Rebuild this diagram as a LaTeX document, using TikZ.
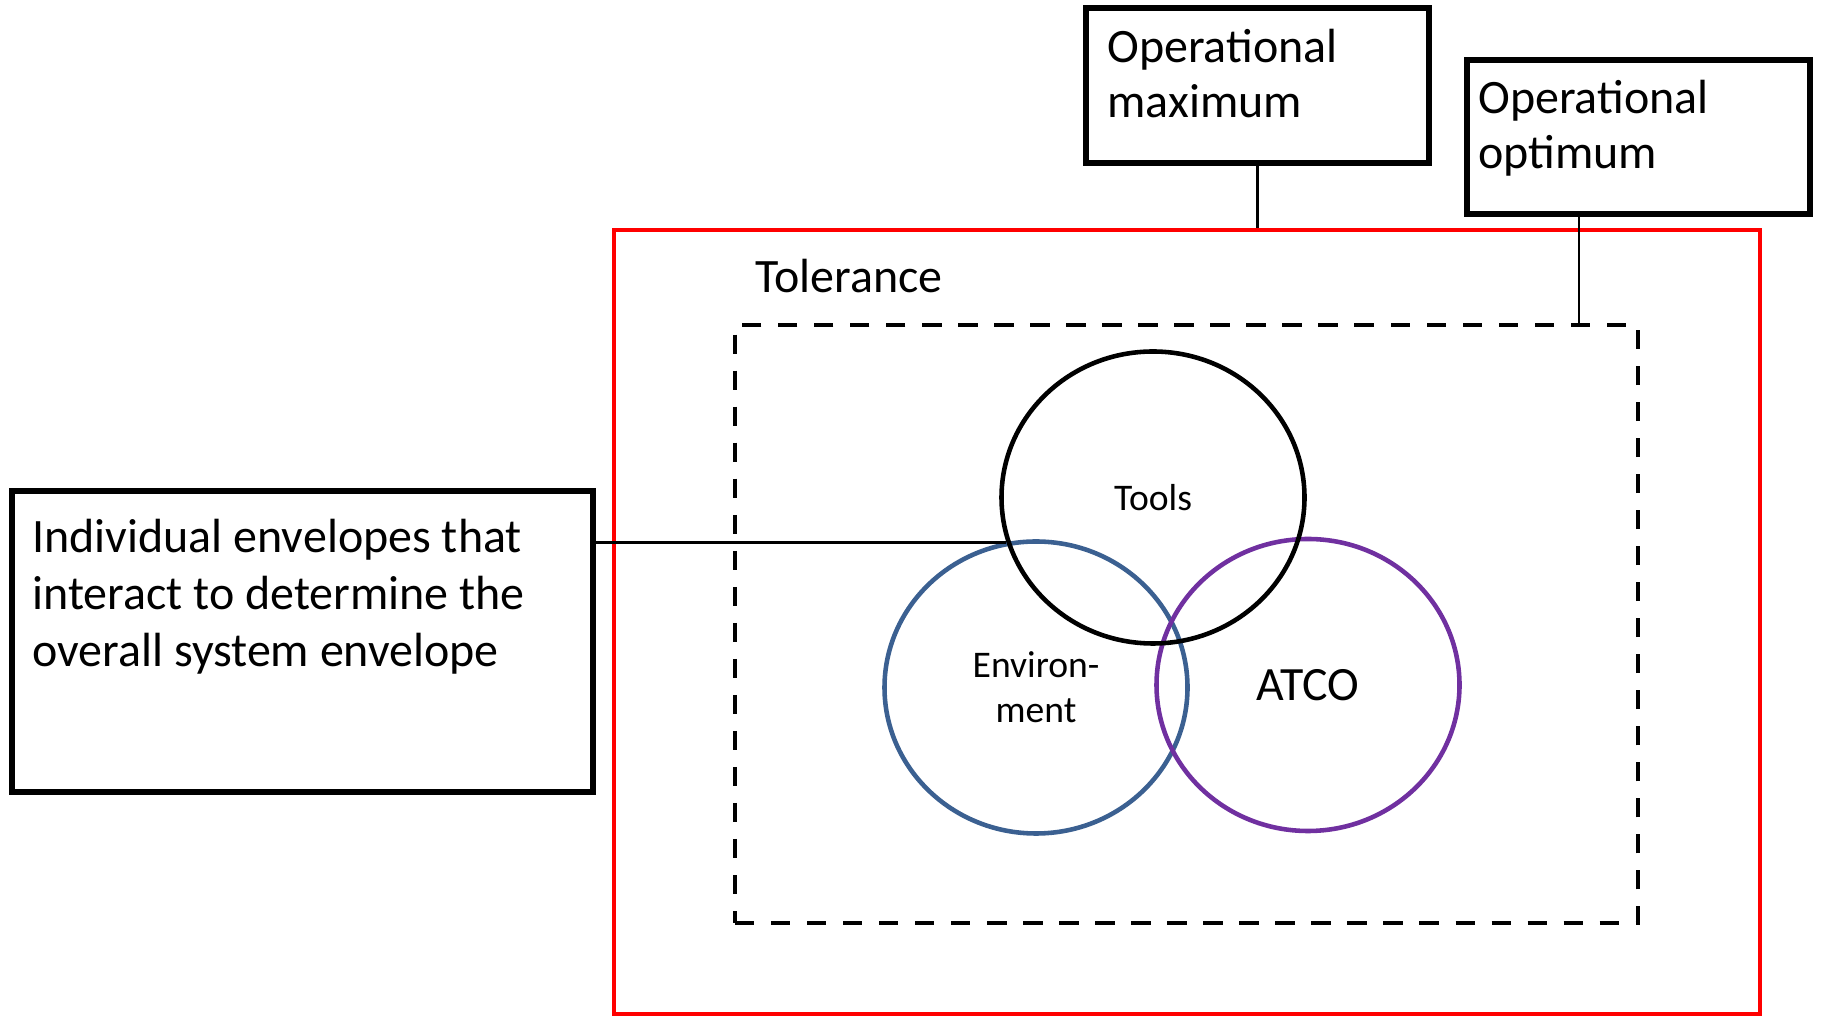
\documentclass[tikz,border=0pt]{standalone}
\usepackage{fontspec}
\setmainfont{Carlito}
\usetikzlibrary{shapes.geometric}
\definecolor{envblue}{HTML}{3B6091}
\definecolor{atcopurple}{HTML}{7030A0}
\tikzset{
  infobox/.style={draw, line width=3pt, inner sep=0pt},
  boxtext/.style={anchor=base west, align=left, inner sep=0pt, font=\fontsize{27.3}{31.8}\selectfont},
  envelope/.style={ellipse, draw, line width=2.6pt, inner sep=0pt, minimum width=6.06cm, minimum height=5.84cm}
}

\begin{document}
\begin{tikzpicture}
\useasboundingbox (0,0) rectangle (36.42,20.32);
% tolerance frame and operational envelope
\node[draw=red, line width=2.5pt, minimum width=22.92cm, minimum height=15.68cm] (tol) at (23.74,7.88) {};
\node[boxtext] (toltext) at (15.1,14.46) {Tolerance};
\node[draw, line width=2.8pt, dash pattern=on 11pt off 9.5pt, minimum width=18.06cm, minimum height=11.96cm] (opt) at (23.73,7.84) {};
% the three envelopes
\node[envelope, draw=envblue, align=center, font=\fontsize{21.4}{25.5}\selectfont] (env) at (20.72,6.57) {Environ-\\ment};
\node[envelope, draw=atcopurple, font=\fontsize{27.2}{30}\selectfont] (atco) at (26.16,6.62) {ATCO};
\node[envelope, font=\fontsize{21.4}{24}\selectfont] (tools) at (23.06,10.37) {Tools};
% label boxes (base anchor sits on the last line)
\node[infobox, minimum width=6.86cm, minimum height=3.1cm] (opmax) at (25.15,18.61) {};
\node[boxtext] (opmaxtext) at (22.14,17.96) {Operational\\maximum};
\node[infobox, minimum width=6.86cm, minimum height=3.08cm] (opopt) at (32.77,17.58) {};
\node[boxtext] (opopttext) at (29.56,16.94) {Operational\\optimum};
\node[infobox, minimum width=11.62cm, minimum height=6.02cm] (indiv) at (6.05,7.49) {};
\node[boxtext, font=\fontsize{27.3}{32.6}\selectfont] (indivtext) at (0.64,6.98) {Individual envelopes that\\interact to determine the\\overall system envelope};
% leader lines
\coordinate (envtip) at (20.12,9.47);
\coordinate (optlink) at (31.58,0);
\draw[line width=1.3pt] (envtip -| indiv.east) -- (envtip);
\draw[line width=1.3pt] (opmax.south) -- (opmax.south |- tol.north);
\draw[line width=1.3pt] (optlink |- opopt.south) -- (optlink |- opt.north);
\end{tikzpicture}
\end{document}
